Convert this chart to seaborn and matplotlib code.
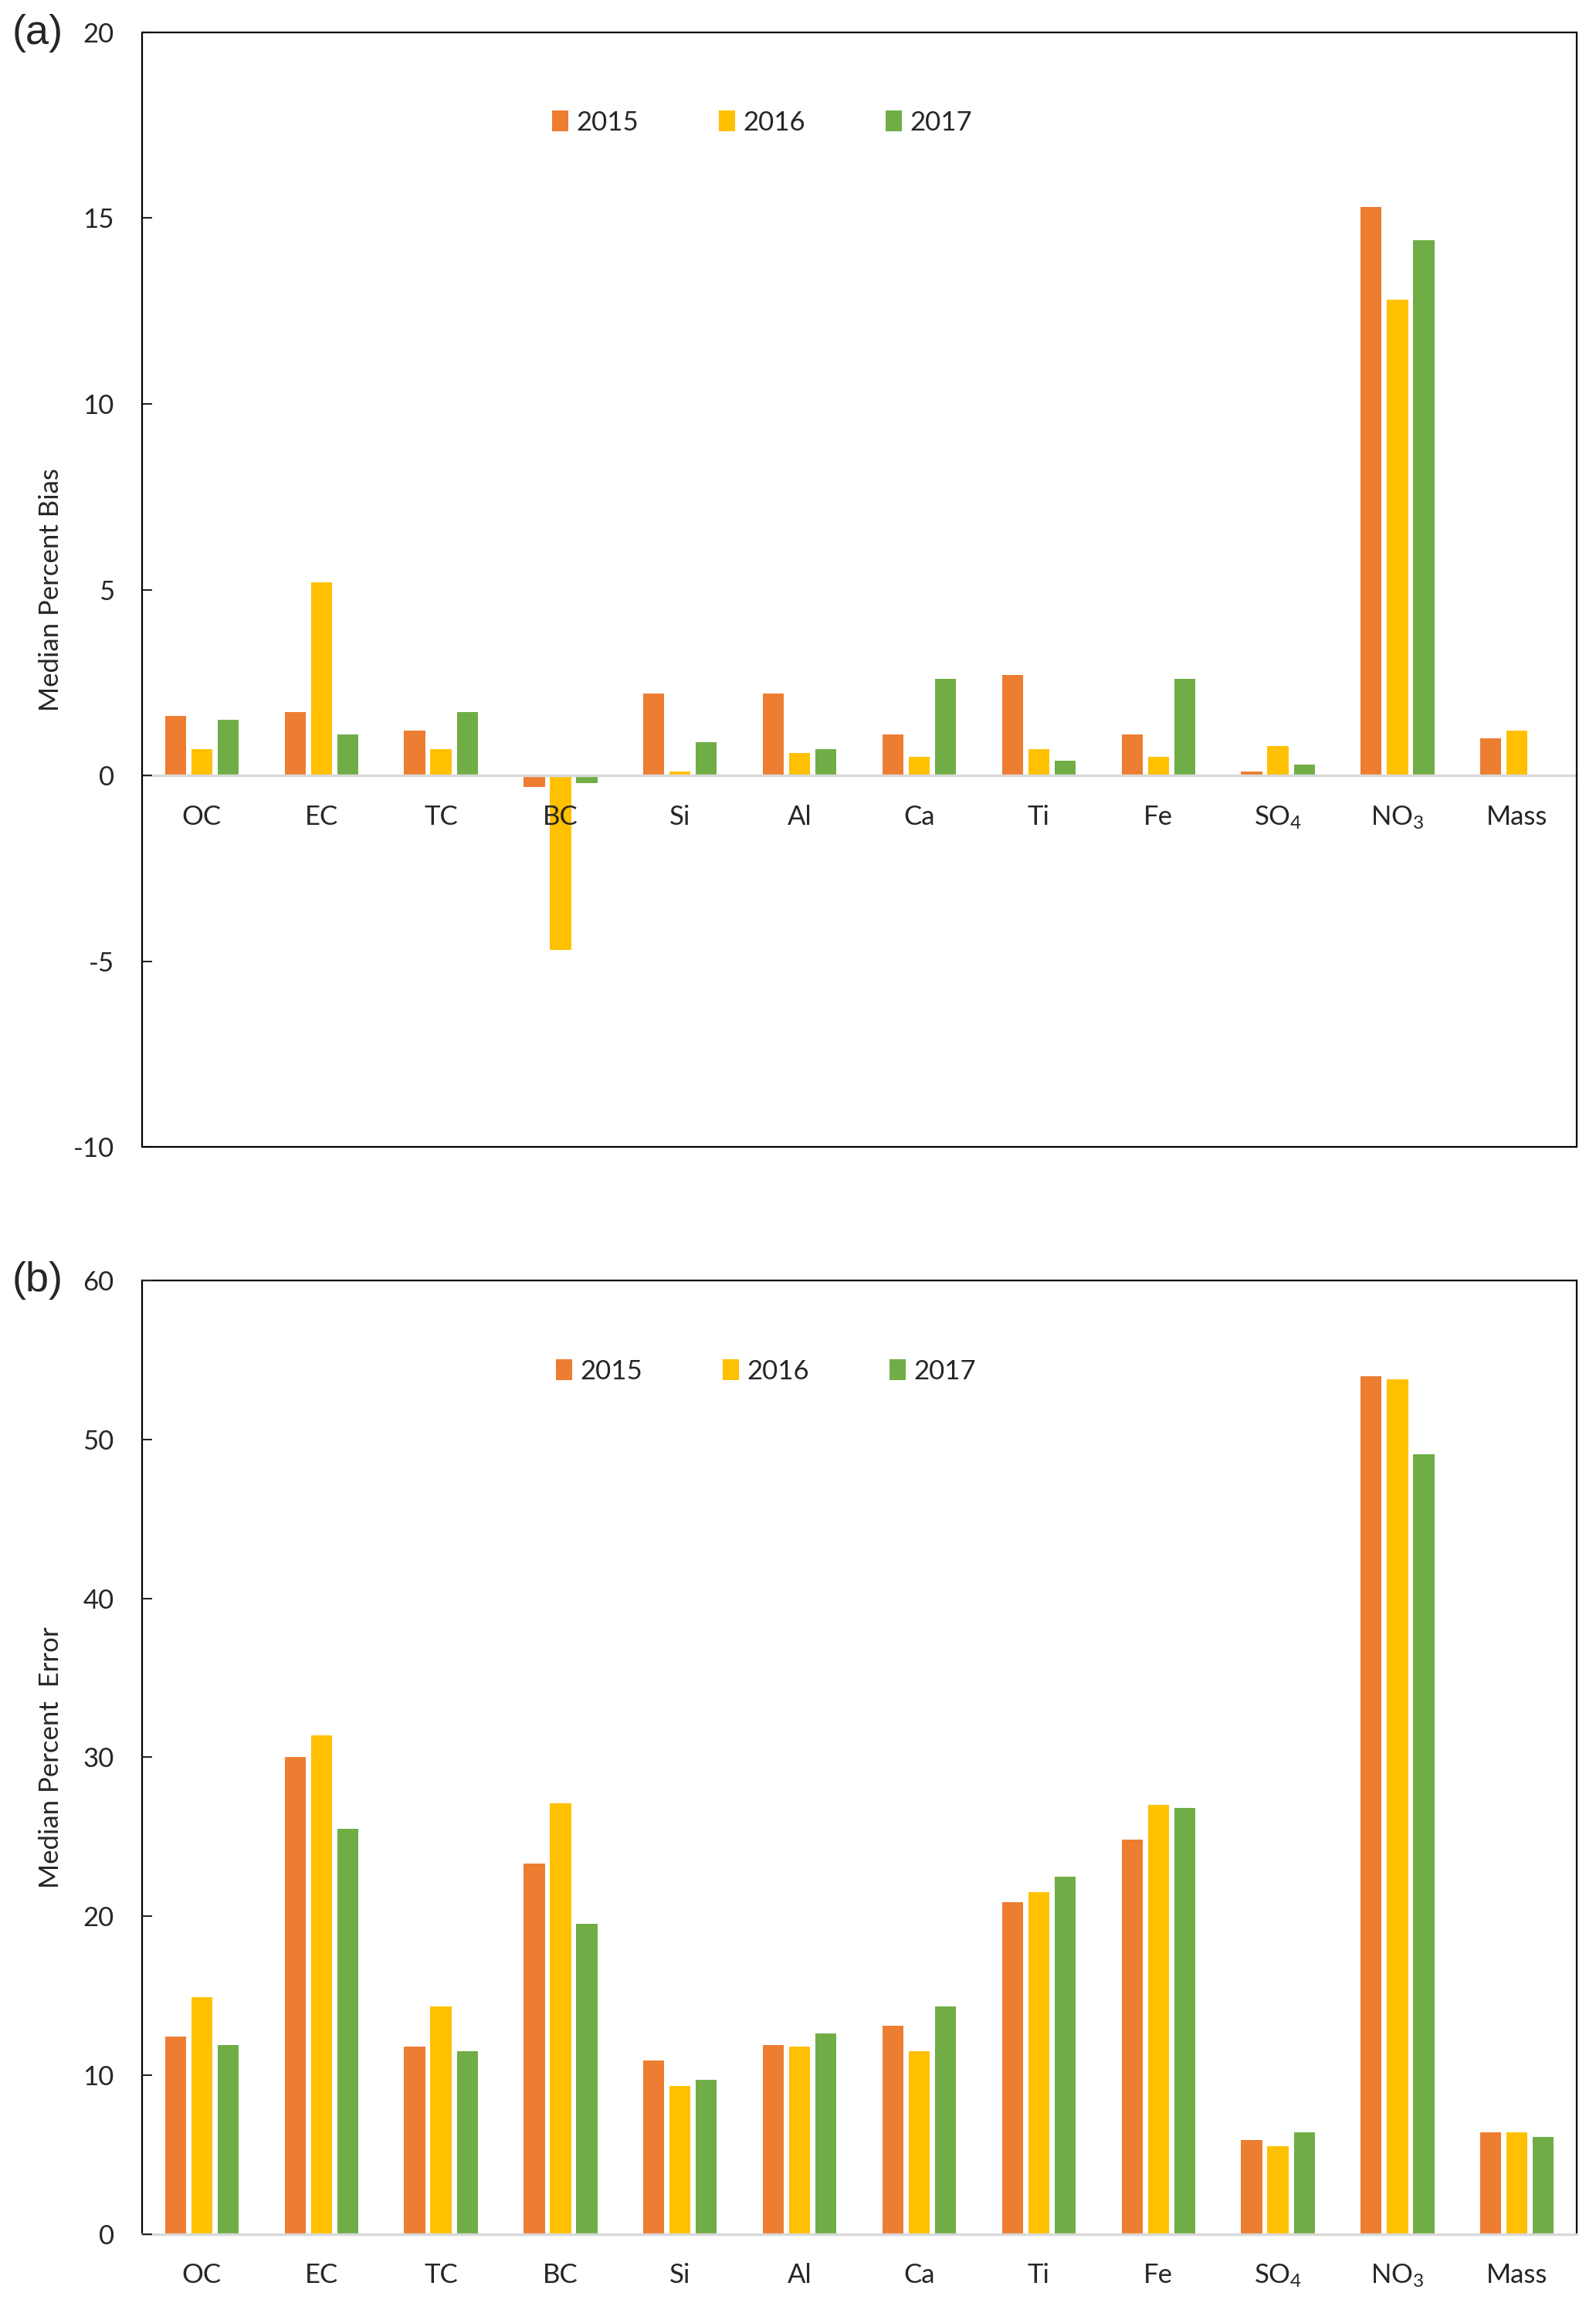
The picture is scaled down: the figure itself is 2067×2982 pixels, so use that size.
import numpy as np
import pandas as pd
import seaborn as sns
import matplotlib.pyplot as plt
from matplotlib.patches import Rectangle

species = ["OC", "EC", "TC", "BC", "Si", "Al", "Ca", "Ti", "Fe", "SO4", "NO3", "Mass"]
tick_labels = ["OC", "EC", "TC", "BC", "Si", "Al", "Ca", "Ti", "Fe",
               r"SO$_\mathregular{4}$", r"NO$_\mathregular{3}$", "Mass"]
years = ["2015", "2016", "2017"]

bias_2015 = [1.6, 1.7, 1.2, -0.3, 2.2, 2.2, 1.1, 2.7, 1.1, 0.1, 15.3, 1.0]
bias_2016 = [0.7, 5.2, 0.7, -4.7, 0.1, 0.6, 0.5, 0.7, 0.5, 0.8, 12.8, 1.2]
bias_2017 = [1.5, 1.1, 1.7, -0.2, 0.9, 0.7, 2.6, 0.4, 2.6, 0.3, 14.4, np.nan]

error_2015 = [12.4, 30.0, 11.8, 23.3, 10.9, 11.9, 13.1, 20.9, 24.8, 5.9, 54.0, 6.4]
error_2016 = [14.9, 31.4, 14.3, 27.1, 9.3, 11.8, 11.5, 21.5, 27.0, 5.5, 53.8, 6.4]
error_2017 = [11.9, 25.5, 11.5, 19.5, 9.7, 12.6, 14.3, 22.5, 26.8, 6.4, 49.1, 6.1]

colors = ["#ED7D31", "#FFC000", "#70AD47"]

sns.set_style("white")
plt.rcParams["font.family"] = ["Lato", "DejaVu Sans"]
plt.rcParams["mathtext.fontset"] = "custom"
plt.rcParams["mathtext.rm"] = "Lato"
plt.rcParams["mathtext.default"] = "regular"
plt.rcParams["axes.unicode_minus"] = False


def long_form(s1, s2, s3):
    frames = []
    for yr, vals in zip(years, [s1, s2, s3]):
        frames.append(pd.DataFrame({"species": species, "year": yr, "value": vals}))
    return pd.concat(frames, ignore_index=True)


bias_df = long_form(bias_2015, bias_2016, bias_2017)
error_df = long_form(error_2015, error_2016, error_2017)

fig = plt.figure(figsize=(20.67, 29.82), dpi=100)
ax_a = fig.add_axes([0.089, 0.5019, 0.899, 0.4841])
ax_b = fig.add_axes([0.089, 0.0300, 0.899, 0.4139])

fs = 25
for ax, df, ylab in [(ax_a, bias_df, "Median Percent Bias"),
                     (ax_b, error_df, "Median Percent  Error")]:
    sns.barplot(data=df, x="species", y="value", hue="year", order=species,
                hue_order=years, palette=colors, saturation=1, width=0.66,
                gap=0.2, linewidth=0, errorbar=None, ax=ax)
    ax.set_axisbelow(False)
    ax.set_xlim(-0.5, len(species) - 0.5)
    ax.set_xticks(range(len(species)))
    ax.set_xticklabels(tick_labels)
    ax.set_xlabel("")
    ax.set_ylabel(ylab, fontsize=fs)
    ax.yaxis.label.set_verticalalignment("center")
    ax.yaxis.set_label_coords(-0.0635, 0.5)
    ax.tick_params(axis="x", length=0, pad=27, labelsize=fs)
    ax.tick_params(axis="y", direction="in", length=9, width=1.5, pad=26,
                   labelsize=fs, left=True)
    handles, labels = ax.get_legend_handles_labels()
    ax.legend(handles, labels, ncol=3, frameon=False, loc="center",
              fontsize=fs, handlelength=0.6, handleheight=0.8,
              handletextpad=0.3, columnspacing=3.0)

# panel (a)
ax_a.set_ylim(-10, 20)
ax_a.set_yticks([-10, -5, 0, 5, 10, 15, 20])
for s in ["left", "top", "right"]:
    ax_a.spines[s].set_visible(False)
ax_a.spines["bottom"].set_position(("data", 0))
ax_a.spines["bottom"].set_color("#D9D9D9")
ax_a.spines["bottom"].set_linewidth(2.5)
ax_a.add_patch(Rectangle((0, 0), 1, 1, transform=ax_a.transAxes, fill=False,
                         edgecolor="black", linewidth=1.6, clip_on=False,
                         zorder=3))
ax_a.get_legend().set_bbox_to_anchor((0.432, 0.919), transform=ax_a.transAxes)

# panel (b)
ax_b.set_ylim(0, 60)
ax_b.set_yticks([0, 10, 20, 30, 40, 50, 60])
for s in ["left", "top", "right"]:
    ax_b.spines[s].set_color("black")
    ax_b.spines[s].set_linewidth(1.6)
ax_b.spines["bottom"].set_color("#D9D9D9")
ax_b.spines["bottom"].set_linewidth(2.5)
ax_b.get_legend().set_bbox_to_anchor((0.435, 0.905), transform=ax_b.transAxes)

fig.text(0.0077, 0.9856, "(a)", fontsize=39, family="Liberation Sans",
         ha="left", va="center")
fig.text(0.0077, 0.4439, "(b)", fontsize=39, family="Liberation Sans",
         ha="left", va="center")

fig.savefig("out.png", dpi=100)
